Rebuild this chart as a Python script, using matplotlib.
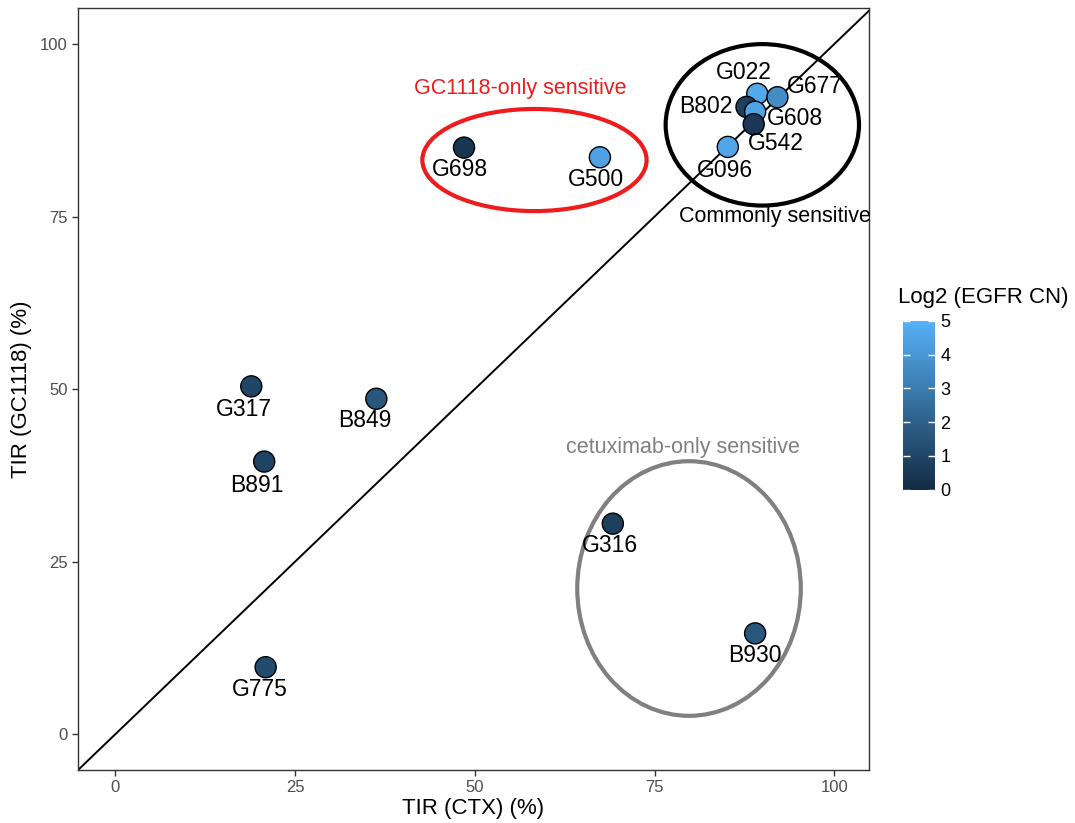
import matplotlib.pyplot as plt
from matplotlib.colors import LinearSegmentedColormap
from matplotlib.patches import Ellipse

plt.rcParams['font.family'] = ['Liberation Sans', 'DejaVu Sans']

# Daten
samples = ['G698', 'G500', 'G022', 'G677', 'B802', 'G608', 'G542', 'G096',
           'G317', 'B849', 'B891', 'G316', 'B930', 'G775']
tir_ctx = [48.5, 67.4, 89.3, 92.1, 87.8, 89.0, 88.8, 85.2,
           18.9, 36.3, 20.7, 69.2, 89.0, 20.9]
tir_gc1118 = [85.0, 83.6, 92.8, 92.3, 90.9, 90.2, 88.4, 85.1,
              50.4, 48.6, 39.5, 30.5, 14.6, 9.7]
egfr_cn = [0.4, 4.4, 4.7, 3.6, 0.8, 4.5, 0.5, 4.6,
           1.0, 1.6, 0.9, 0.8, 1.6, 1.2]

# Beschriftungs-Versatz in Punkten
label_offsets = {
    'G698': (-3, -16), 'G500': (-3, -16), 'G022': (-10, 15), 'G677': (27, 8),
    'B802': (-29, 0), 'G608': (29, -5), 'G542': (16, -14), 'G096': (-2, -17),
    'G317': (-5, -17), 'B849': (-8, -16), 'B891': (-5, -17), 'G316': (-2, -16),
    'B930': (0, -16), 'G775': (-4, -16),
}

cmap = LinearSegmentedColormap.from_list('gg', ['#132B43', '#56B1F7'])

fig = plt.figure(figsize=(10.75, 8.23), dpi=100)
ax = fig.add_axes([0.0726, 0.0644, 0.7355, 0.9256])

ax.plot([-10, 110], [-10, 110], color='black', lw=1.4, zorder=1)

sc = ax.scatter(tir_ctx, tir_gc1118, c=egfr_cn, cmap=cmap, vmin=0, vmax=5,
                s=230, edgecolors='black', linewidths=1, zorder=3)

for name, x, y in zip(samples, tir_ctx, tir_gc1118):
    dx, dy = label_offsets[name]
    ax.annotate(name, (x, y), xytext=(dx, dy), textcoords='offset points',
                ha='center', va='center', fontsize=16.5, zorder=4)

# Gruppen-Ellipsen
ax.add_patch(Ellipse((58.3, 83.2), 31.2, 14.8, fill=False, ec='#EE1C1C', lw=3, zorder=2))
ax.add_patch(Ellipse((90.0, 88.3), 26.9, 23.4, fill=False, ec='black', lw=3, zorder=2))
ax.add_patch(Ellipse((79.8, 21.1), 31.1, 36.9, fill=False, ec='#808080', lw=3, zorder=2))

ax.text(56.3, 93.6, 'GC1118-only sensitive', color='#EE1C1C', fontsize=15.5,
        ha='center', va='center')
ax.text(91.8, 75.0, 'Commonly sensitive', color='black', fontsize=15.5,
        ha='center', va='center')
ax.text(78.9, 41.5, 'cetuximab-only sensitive', color='#808080', fontsize=15.5,
        ha='center', va='center')

ax.set_xlim(-5.2, 104.8)
ax.set_ylim(-5.2, 105.2)
ax.set_xticks([0, 25, 50, 75, 100])
ax.set_yticks([0, 25, 50, 75, 100])
ax.tick_params(axis='both', colors='#333333', labelcolor='#4D4D4D',
               labelsize=12, length=4, width=1)
ax.set_xlabel('TIR (CTX) (%)', fontsize=16, labelpad=2)
ax.set_ylabel('TIR (GC1118) (%)', fontsize=16, labelpad=6)
for sp in ax.spines.values():
    sp.set_color('#333333')
    sp.set_linewidth(1)

# Farbskala
cax = fig.add_axes([0.840, 0.405, 0.0298, 0.205])
cbar = fig.colorbar(sc, cax=cax, ticks=[0, 1, 2, 3, 4, 5])
cbar.outline.set_visible(False)
cax.tick_params(direction='in', color='white', length=5, width=1,
                left=True, right=True, labelleft=False, labelright=True,
                labelsize=13, pad=4)
fig.text(0.915, 0.638, 'Log2 (EGFR CN)', fontsize=16,
         ha='center', va='center')

fig.savefig('out.png', dpi=100)
